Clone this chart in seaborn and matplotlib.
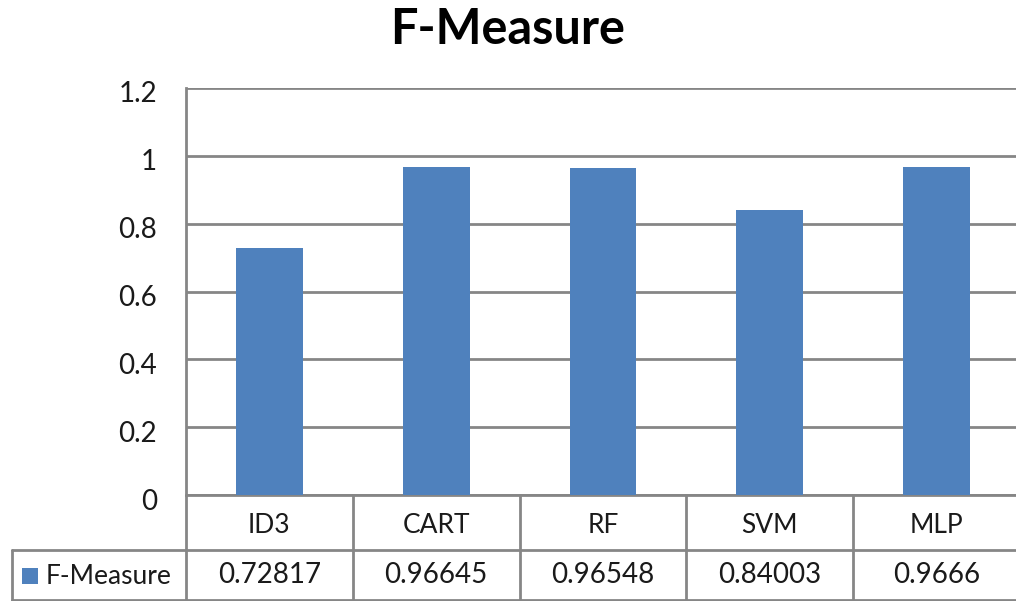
import matplotlib
matplotlib.use("Agg")
import matplotlib.pyplot as plt
import matplotlib.transforms as mtransforms
from matplotlib.patches import Rectangle
import seaborn as sns
import pandas as pd

# Classifier scores
models = ["ID3", "CART", "RF", "SVM", "MLP"]
f_measure = [0.72817, 0.96645, 0.96548, 0.84003, 0.9666]
value_labels = ["0.72817", "0.96645", "0.96548", "0.84003", "0.9666"]
series_name = "F-Measure"
y_ticks = [0, 0.2, 0.4, 0.6, 0.8, 1, 1.2]
y_tick_labels = ["0", "0.2", "0.4", "0.6", "0.8", "1", "1.2"]

sns.set_theme(style="white")
plt.rcParams["font.family"] = ["Lato", "DejaVu Sans"]

BAR = "#4F81BD"
GRID = "#868686"
TXT = "#1a1a1a"

df = pd.DataFrame({"model": models, "value": f_measure})

W, H = 1016, 601
fig = plt.figure(figsize=(W / 100, H / 100), dpi=100)
left, right, top, bottom = 186, 1020, 88, 495
ax = fig.add_axes([left / W, 1 - bottom / H, (right - left) / W, (bottom - top) / H])

sns.barplot(data=df, x="model", y="value", color=BAR, width=0.4,
            saturation=1, linewidth=0, ax=ax, zorder=3)

ax.set_xlim(-0.5, len(models) - 0.5)
ax.set_ylim(0, 1.2)
ax.set_yticks(y_ticks)
ax.set_yticklabels(y_tick_labels, fontsize=20, color=TXT)
ax.tick_params(axis="y", length=0, pad=21)
# nudge the value labels slightly below their gridlines
shift = mtransforms.ScaledTranslation(0, -4 / 100, fig.dpi_scale_trans)
for lab in ax.get_yticklabels():
    lab.set_transform(lab.get_transform() + shift)
ax.set_xticks([])
ax.set_xlabel("")
ax.set_ylabel("")
ax.yaxis.grid(True, color=GRID, linewidth=2, zorder=0)
for side in ("top", "right", "bottom"):
    ax.spines[side].set_visible(False)
ax.spines["left"].set_color(GRID)
ax.spines["left"].set_linewidth(2)

fig.text(0.5, 1 - 30 / H, "F-Measure", ha="center", va="center",
         fontsize=35, fontweight="bold", color="black")

# Data table below the plot area
tr = ax.get_xaxis_transform()
ph = bottom - top
row1 = -(550 - bottom) / ph
row2 = -(600 - bottom) / ph
cat_w = (right - left) / len(models)
legend_x = -0.5 + (12 - left) / cat_w
lw = 2

def hline(x0, x1, y):
    ax.plot([x0, x1], [y, y], transform=tr, color=GRID, lw=lw, clip_on=False)

def vline(x, y0, y1):
    ax.plot([x, x], [y0, y1], transform=tr, color=GRID, lw=lw, clip_on=False)

n = len(models)
hline(-0.5, n - 0.5, 0)
hline(legend_x, n - 0.5, row1)
hline(legend_x, n - 0.5, row2)
vline(-0.5, 0, row2)
vline(legend_x, row1, row2)
for i in range(1, n):
    vline(i - 0.5, 0, row2)

for i, (m, v) in enumerate(zip(models, value_labels)):
    ax.text(i, row1 / 2 - 3 / ph, m, transform=tr, ha="center", va="center",
            fontsize=19, color=TXT)
    ax.text(i, (row1 + row2) / 2, v, transform=tr, ha="center", va="center",
            fontsize=20, color=TXT)

# Legend key inside the table
key = mtransforms.blended_transform_factory(fig.transFigure, fig.transFigure)
fig.patches.append(Rectangle((22 / W, 1 - 584 / H), 16 / W, 16 / H,
                             transform=key, facecolor=BAR, edgecolor="none"))
fig.text(46 / W, 1 - 577 / H, series_name, ha="left", va="center",
         fontsize=19, color=TXT)

fig.savefig("out.png", dpi=100)
